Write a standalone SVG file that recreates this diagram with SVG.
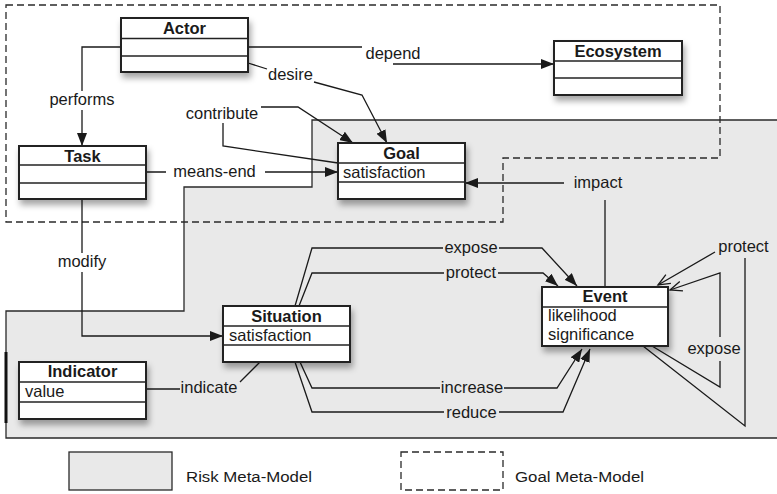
<svg xmlns="http://www.w3.org/2000/svg" width="777" height="494" viewBox="0 0 777 494">
  <defs>
    <style>
      text { font-family: "Liberation Sans", Arial, Helvetica, sans-serif; font-size: 16.5px; fill: #1a1a1a; }
      .name { font-weight: bold; text-anchor: middle; }
      .lbl { text-anchor: middle; }
      .box { fill: #fff; stroke: #222; stroke-width: 2; filter: url(#shadow); }
      .div { stroke: #222; stroke-width: 1.6; }
      .edge { fill: none; stroke: #1a1a1a; stroke-width: 1.3; }
      .arr { marker-end: url(#arrow); }
      .oarr { marker-end: url(#open); }
      .risk { fill: #e9e9e9; stroke: #2a2a2a; stroke-width: 1.3; }
      .goalmm { fill: none; stroke: #2a2a2a; stroke-width: 1.3; stroke-dasharray: 7 4; }
      .legend { font-size: 15.5px; }
    </style>
    <filter id="shadow" x="-20%" y="-30%" width="140%" height="180%">
      <feDropShadow dx="2" dy="5" stdDeviation="3" flood-color="#000" flood-opacity="0.35"/>
    </filter>
    <marker id="arrow" markerUnits="userSpaceOnUse" viewBox="0 0 13 10" markerWidth="13" markerHeight="10" refX="13" refY="5" orient="auto">
      <path d="M0,0 L13,5 L0,10 z" fill="#1a1a1a"/>
    </marker>
    <marker id="open" markerUnits="userSpaceOnUse" viewBox="0 0 13 12" markerWidth="13" markerHeight="12" refX="12" refY="6" orient="auto" overflow="visible">
      <path d="M0,1 L12,6 L0,11" fill="none" stroke="#1a1a1a" stroke-width="1.3"/>
    </marker>
  </defs>

  <!-- Risk meta-model region (grey) -->
  <path class="risk" d="M780,120 H312 V187 H184 V311 H6 V438 H780"/>
  <line x1="6" y1="352" x2="6" y2="423" stroke="#111" stroke-width="3"/>

  <!-- Goal meta-model region (dashed) -->
  <path class="goalmm" d="M6,5 H720 V158 H503 V222 H6 Z"/>

  <!-- Connectors -->
  <g id="connectors">
    <!-- performs -->
    <path class="edge arr" d="M121,47 H82 V91 M82,110 V146"/>
    <!-- depend -->
    <path class="edge arr" d="M248,47 H362 M393,64 H554"/>
    <!-- desire -->
    <path class="edge arr" d="M248,63 L267,69 M314,82 L362,95 L387,143"/>
    <!-- contribute -->
    <path class="edge arr" d="M338,163 L223,146 V123 M261,107 H298 L353,143"/>
    <!-- means-end -->
    <path class="edge arr" d="M146,172 H166 M265,172 H338"/>
    <!-- modify -->
    <path class="edge arr" d="M82,199 V253 M82,272 V336 H223"/>
    <!-- indicate -->
    <path class="edge" d="M146,389 H180 M240,382 L260,362"/>
    <!-- expose (Situation to Event) -->
    <path class="edge arr" d="M295,306 L312,248 H443 M499,248 H542 L577,286"/>
    <!-- protect (Situation to Event) -->
    <path class="edge arr" d="M299,306 L312,273 H444 M498,273 H543 L558,286"/>
    <!-- increase -->
    <path class="edge arr" d="M300,362 L312,388 H440 M504,388 H557 L582,349"/>
    <!-- reduce -->
    <path class="edge arr" d="M295,362 L312,412 H444 M499,412 H563 L590,349"/>
    <!-- impact -->
    <path class="edge arr" d="M605,287 V200 M564,183 H465"/>
    <!-- protect (Event self) -->
    <path class="edge oarr" d="M643,346 L745,426 V258 M715,252 L658,285"/>
    <!-- expose (Event self) -->
    <path class="edge oarr" d="M652,346 L720,387 V361 M720,337 V273 L670,290"/>
  </g>

  <!-- Connector labels -->
  <g id="labels">
    <text class="lbl" x="82" y="105">performs</text>
    <text class="lbl" x="393" y="59">depend</text>
    <text class="lbl" x="290.5" y="80">desire</text>
    <text class="lbl" x="222" y="119">contribute</text>
    <text class="lbl" x="214.5" y="177">means-end</text>
    <text class="lbl" x="82" y="267">modify</text>
    <text class="lbl" x="209" y="393">indicate</text>
    <text class="lbl" x="471" y="253">expose</text>
    <text class="lbl" x="471" y="278">protect</text>
    <text class="lbl" x="472" y="393">increase</text>
    <text class="lbl" x="471.5" y="418">reduce</text>
    <text class="lbl" x="598" y="188">impact</text>
    <text class="lbl" x="743.5" y="252">protect</text>
    <text class="lbl" x="714" y="354">expose</text>
  </g>

  <!-- Classes -->
  <g id="actor">
    <rect class="box" x="121" y="18" width="127" height="54"/>
    <line class="div" x1="121" y1="38.5" x2="248" y2="38.5"/>
    <line class="div" x1="121" y1="56" x2="248" y2="56"/>
    <text class="name" x="184.5" y="34">Actor</text>
  </g>

  <g id="ecosystem">
    <rect class="box" x="554" y="41" width="128" height="54"/>
    <line class="div" x1="554" y1="61" x2="682" y2="61"/>
    <line class="div" x1="554" y1="78" x2="682" y2="78"/>
    <text class="name" x="618" y="57">Ecosystem</text>
  </g>

  <g id="task">
    <rect class="box" x="19" y="146" width="127" height="53"/>
    <line class="div" x1="19" y1="165" x2="146" y2="165"/>
    <line class="div" x1="19" y1="183" x2="146" y2="183"/>
    <text class="name" x="82.5" y="162">Task</text>
  </g>

  <g id="goal">
    <rect class="box" x="338" y="143" width="127" height="56"/>
    <line class="div" x1="338" y1="163" x2="465" y2="163"/>
    <line class="div" x1="338" y1="182" x2="465" y2="182"/>
    <text class="name" x="401.5" y="159">Goal</text>
    <text x="343" y="178">satisfaction</text>
  </g>

  <g id="situation">
    <rect class="box" x="223" y="306" width="127" height="56"/>
    <line class="div" x1="223" y1="326" x2="350" y2="326"/>
    <line class="div" x1="223" y1="345" x2="350" y2="345"/>
    <text class="name" x="286.5" y="322">Situation</text>
    <text x="229" y="341">satisfaction</text>
  </g>

  <g id="indicator">
    <rect class="box" x="19" y="362" width="127" height="57"/>
    <line class="div" x1="19" y1="382" x2="146" y2="382"/>
    <line class="div" x1="19" y1="402" x2="146" y2="402"/>
    <text class="name" x="82.5" y="377">Indicator</text>
    <text x="25" y="397">value</text>
  </g>

  <g id="event">
    <rect class="box" x="542" y="287" width="126" height="59"/>
    <line class="div" x1="542" y1="307" x2="668" y2="307"/>
    <text class="name" x="605" y="302">Event</text>
    <text x="548" y="321">likelihood</text>
    <text x="548" y="340">significance</text>
  </g>

  <!-- Legend -->
  <g id="legend">
    <rect class="risk" x="69" y="452" width="103" height="38"/>
    <text class="legend" x="186" y="482" textLength="126" lengthAdjust="spacingAndGlyphs">Risk Meta-Model</text>
    <rect class="goalmm" x="401" y="452" width="102" height="38"/>
    <text class="legend" x="515" y="482" textLength="129" lengthAdjust="spacingAndGlyphs">Goal Meta-Model</text>
  </g>
</svg>
